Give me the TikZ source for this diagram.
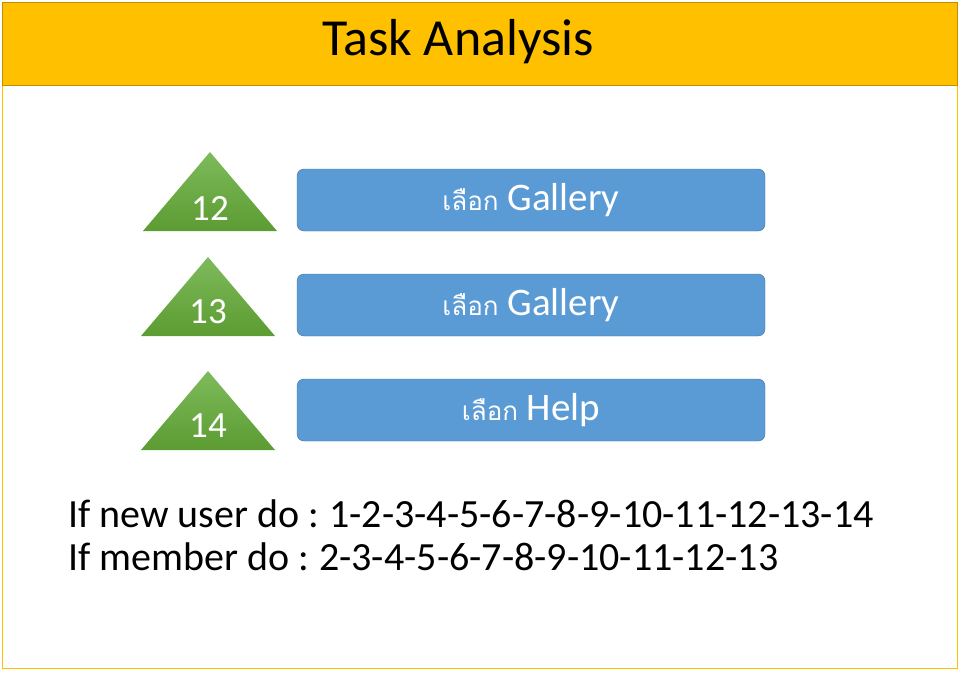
\documentclass[tikz,border=0pt]{standalone}
\usepackage{fontspec}
\setmainfont{Carlito}
\newfontfamily\thaifont[Script=Thai]{Loma}
\usetikzlibrary{positioning}
\definecolor{hdrfill}{HTML}{FFC000}
\definecolor{hdrline}{HTML}{BF9000}
\definecolor{boxfill}{HTML}{5B9BD5}
\definecolor{boxline}{HTML}{41719C}
\definecolor{trilight}{HTML}{7EBA5B}
\definecolor{tridark}{HTML}{5C9C32}
\begin{document}
\begin{tikzpicture}[x=1pt, y=-1pt,
  choice/.style={shape=rectangle, rounded corners=7pt, draw=boxline, fill=boxfill, minimum width=468pt, minimum height=62pt, text=white, font=\fontsize{39}{42}\selectfont},
  number/.style={text=white, font=\fontsize{37}{40}\selectfont},
  plain/.style={anchor=west, inner sep=0pt, font=\fontsize{40}{44}\selectfont}]
\useasboundingbox (0,0) rectangle (961,674);
\draw[draw=hdrfill, thick] (2,2) rectangle (957,668);
\draw[fill=hdrfill, draw=hdrline] (2,2) rectangle (957,85);
\node[font=\fontsize{52}{56}\selectfont] (title) at (458,42) {Task Analysis};
\shade[top color=trilight, bottom color=tridark] (210,152) -- (277,231) -- (143,231) -- cycle;
\shade[top color=trilight, bottom color=tridark] (208,257) -- (275,336) -- (141,336) -- cycle;
\shade[top color=trilight, bottom color=tridark] (208,371) -- (275,450) -- (141,450) -- cycle;
\node[number] (n12) at (210,208) {12};
\node[number] (n13) at (208,312) {13};
\node[number] (n14) at (208,426) {14};
\node[choice] (c12) at (531,200) {{\thaifont\fontsize{26}{30}\selectfont เลือก} Gallery};
\node[choice] (c13) at (531,305) {{\thaifont\fontsize{26}{30}\selectfont เลือก} Gallery};
\node[choice] (c14) at (531,410) {{\thaifont\fontsize{26}{30}\selectfont เลือก} Help};
\node[plain] (newuser) at (68,514) {If new user do :\hspace{-2pt} 1-2-3-4-5-6-7-8-9-10-11-12-13-14};
\node[plain] (member) at (68,557) {If member do :\hspace{-2pt} 2-3-4-5-6-7-8-9-10-11-12-13};
\end{tikzpicture}
\end{document}
